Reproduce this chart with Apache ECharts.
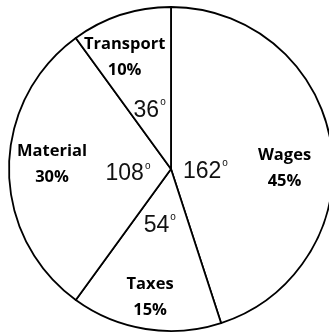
<!DOCTYPE html>
<html>
<head>
<meta charset="utf-8">
<script src="https://cdn.jsdelivr.net/npm/echarts@6/dist/echarts.min.js"></script>
<style>
  html, body { margin: 0; padding: 0; background: #fff; }
  #chart { width: 329px; height: 333px; }
</style>
</head>
<body>
<div id="chart"></div>
<script>
// Expense shares (clockwise from 12 o'clock)
const categories = ['Wages', 'Taxes', 'Material', 'Transport'];
const percents = [45, 15, 30, 10];
const degrees = [162, 54, 108, 36];

// Small per-slice label nudges (pixels) relative to the library's inside position
const nameNudge = [[-6, 18], [-2, 9], [2, -5], [-9, 3]];
const degNudge = [[-18, 11], [-3, 4], [10, 5], [-5, -8]];

const center = [171, 169];
const R = 162;

const chart = echarts.init(document.getElementById('chart'), null, { renderer: 'canvas' });

const sliceData = categories.map((c, i) => ({ name: c, value: percents[i] }));

chart.setOption({
  animation: false,
  backgroundColor: '#fff',
  series: [
    {
      // visible pie
      type: 'pie',
      silent: true,
      startAngle: 90,
      clockwise: true,
      center: center,
      radius: [0, R],
      itemStyle: { color: '#fff', borderColor: '#000', borderWidth: 1.8 },
      label: { show: false },
      labelLine: { show: false },
      data: sliceData
    },
    {
      // category name + percentage labels
      type: 'pie',
      silent: true,
      startAngle: 90,
      clockwise: true,
      center: center,
      radius: [0, 236],
      itemStyle: { color: 'rgba(0,0,0,0)', borderWidth: 0 },
      label: {
        show: true,
        position: 'inside',
        formatter: p => p.name + '\n' + percents[p.dataIndex] + '%',
        fontFamily: 'Open Sans',
        fontWeight: 'bold',
        fontSize: 16.5,
        lineHeight: 26,
        color: '#000',
        align: 'center'
      },
      labelLayout: p => ({ dx: nameNudge[p.dataIndex][0], dy: nameNudge[p.dataIndex][1] }),
      labelLine: { show: false },
      data: sliceData
    },
    {
      // central angle labels
      type: 'pie',
      silent: true,
      startAngle: 90,
      clockwise: true,
      center: center,
      radius: [0, 100],
      itemStyle: { color: 'rgba(0,0,0,0)', borderWidth: 0 },
      label: {
        show: true,
        position: 'inside',
        formatter: p => '{n|' + degrees[p.dataIndex] + '}{d|o}',
        rich: {
          n: { fontFamily: 'Liberation Sans', fontSize: 23, color: '#111', lineHeight: 26 },
          d: { fontFamily: 'Liberation Sans', fontSize: 10, color: '#111', verticalAlign: 'top', lineHeight: 12, padding: [0, 0, 0, 1] }
        }
      },
      labelLayout: p => ({ dx: degNudge[p.dataIndex][0], dy: degNudge[p.dataIndex][1] }),
      labelLine: { show: false },
      data: sliceData
    }
  ]
});
</script>
</body>
</html>
